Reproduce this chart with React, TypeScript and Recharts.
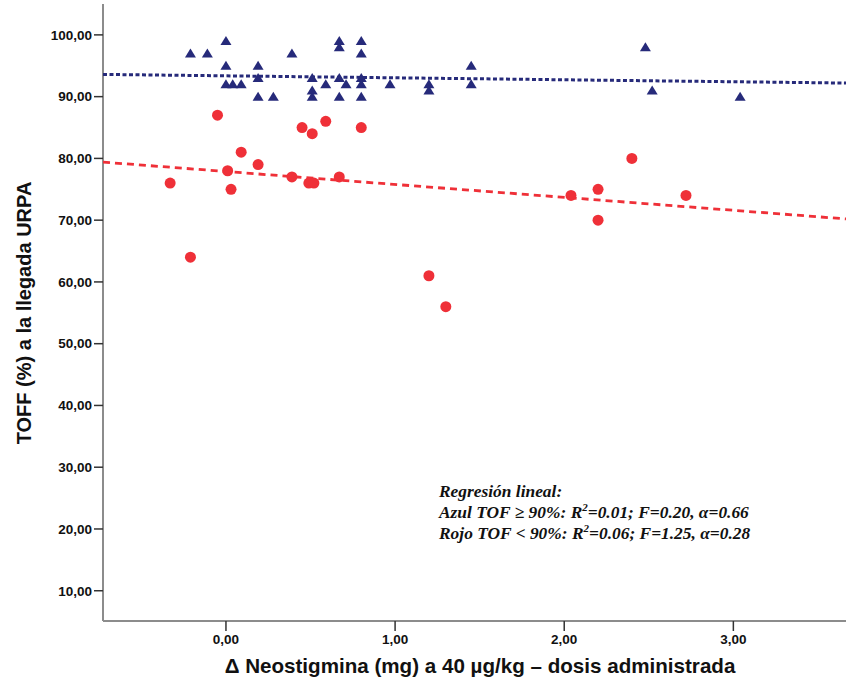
import React from "react";
import { ScatterChart, Scatter, XAxis, YAxis } from "recharts";

// TOF >= 90% (azul)
const blueX = [-0.21, -0.11, 0.0, 0.0, 0.0, 0.04, 0.09, 0.19, 0.19, 0.19, 0.28, 0.39, 0.51, 0.51, 0.51, 0.59, 0.67, 0.67, 0.67, 0.67, 0.71, 0.8, 0.8, 0.8, 0.8, 0.8, 0.97, 1.2, 1.2, 1.45, 1.45, 2.48, 2.52, 3.04];
const blueY = [97, 97, 99, 95, 92, 92, 92, 95, 93, 90, 90, 97, 93, 91, 90, 92, 99, 98, 93, 90, 92, 99, 97, 93, 92, 90, 92, 92, 91, 95, 92, 98, 91, 90];

// TOF < 90% (rojo)
const redX = [-0.33, -0.21, -0.05, 0.01, 0.03, 0.09, 0.19, 0.39, 0.45, 0.49, 0.52, 0.51, 0.59, 0.67, 0.8, 1.2, 1.3, 2.04, 2.2, 2.2, 2.4, 2.72];
const redY = [76, 64, 87, 78, 75, 81, 79, 77, 85, 76, 76, 84, 86, 77, 85, 61, 56, 74, 75, 70, 80, 74];

// regression lines, read at the plot edges
const fitX = [-0.727, 3.666];
const blueFitY = [93.6, 92.2];
const redFitY = [79.4, 70.2];

const xTicks = [0, 1, 2, 3];
const yTicks = [10, 20, 30, 40, 50, 60, 70, 80, 90, 100];

const toPoints = (xs: number[], ys: number[]) => xs.map((x, i) => ({ x, y: ys[i] }));
const blueData = toPoints(blueX, blueY);
const redData = toPoints(redX, redY);
const blueFit = toPoints(fitX, blueFitY);
const redFit = toPoints(fitX, redFitY);

const fmt = (v: number) => v.toFixed(2).replace(".", ",");

const BLUE = "#262a7a";
const RED = "#ef3038";
const sans = "'Liberation Sans', Arial, sans-serif";

const Triangle = (props: any) => {
  const { cx, cy } = props;
  return <polygon points={`${cx},${cy - 5} ${cx + 5.5},${cy + 4} ${cx - 5.5},${cy + 4}`} fill={BLUE} />;
};

const Dot = (props: any) => <circle cx={props.cx} cy={props.cy} r={5.5} fill={RED} />;

const NoShape = () => <g />;

const tickStyle = { fontFamily: sans, fontSize: 13.5, fontWeight: 700, fill: "#111" };

const YLabel = () => (
  <text x={31} y={313} transform="rotate(-90 31 313)" textAnchor="middle" fontFamily={sans} fontSize={20} fontWeight={700} fill="#111">
    TOFF (%) a la llegada URPA
  </text>
);

const XLabel = () => (
  <text x={480} y={673} textAnchor="middle" fontFamily={sans} fontSize={20.6} fontWeight={700} fill="#111">
    Δ Neostigmina (mg) a 40 µg/kg – dosis administrada
  </text>
);

export default function App() {
  return (
    <div style={{ position: "absolute", left: 0, top: 0, width: 846, height: 689 }}>
      <ScatterChart width={846} height={689} margin={{ top: 4, right: 0, bottom: 0, left: 0 }}>
        <XAxis
          type="number"
          dataKey="x"
          domain={[-0.727, 3.666]}
          ticks={xTicks}
          tickFormatter={fmt}
          allowDataOverflow
          height={68}
          tickSize={10}
          tickMargin={3}
          tick={tickStyle}
          axisLine={{ stroke: "#8c8c8c", strokeWidth: 2 }}
          tickLine={{ stroke: "#333", strokeWidth: 1.5 }}
          label={<XLabel />}
        />
        <YAxis
          type="number"
          dataKey="y"
          domain={[5.1, 105]}
          ticks={yTicks}
          tickFormatter={fmt}
          allowDataOverflow
          width={103}
          tickSize={9}
          tickMargin={2}
          tick={tickStyle}
          axisLine={{ stroke: "#8c8c8c", strokeWidth: 2 }}
          tickLine={{ stroke: "#333", strokeWidth: 1.5 }}
          label={<YLabel />}
        />
        <Scatter data={blueFit} shape={NoShape} line={{ stroke: BLUE, strokeWidth: 3, strokeDasharray: "4 2.5" }} isAnimationActive={false} />
        <Scatter data={redFit} shape={NoShape} line={{ stroke: RED, strokeWidth: 2.8, strokeDasharray: "7 5" }} isAnimationActive={false} />
        <Scatter data={blueData} shape={Triangle} isAnimationActive={false} />
        <Scatter data={redData} shape={Dot} isAnimationActive={false} />
      </ScatterChart>
      <svg width={846} height={689} style={{ position: "absolute", left: 0, top: 0, pointerEvents: "none" }}>
        <g fontFamily="'Liberation Serif', 'Times New Roman', serif" fontSize={17.4} fontWeight={700} fontStyle="italic" fill="#111">
          <text x={439} y={497}>Regresión lineal:</text>
          <text x={439} y={518}>
            Azul TOF ≥ 90%: R<tspan dy={-7} fontSize={11}>2</tspan><tspan dy={7}>=0.01; F=0.20, α=0.66</tspan>
          </text>
          <text x={439} y={539}>
            Rojo TOF &lt; 90%: R<tspan dy={-7} fontSize={11}>2</tspan><tspan dy={7}>=0.06; F=1.25, α=0.28</tspan>
          </text>
        </g>
      </svg>
    </div>
  );
}
